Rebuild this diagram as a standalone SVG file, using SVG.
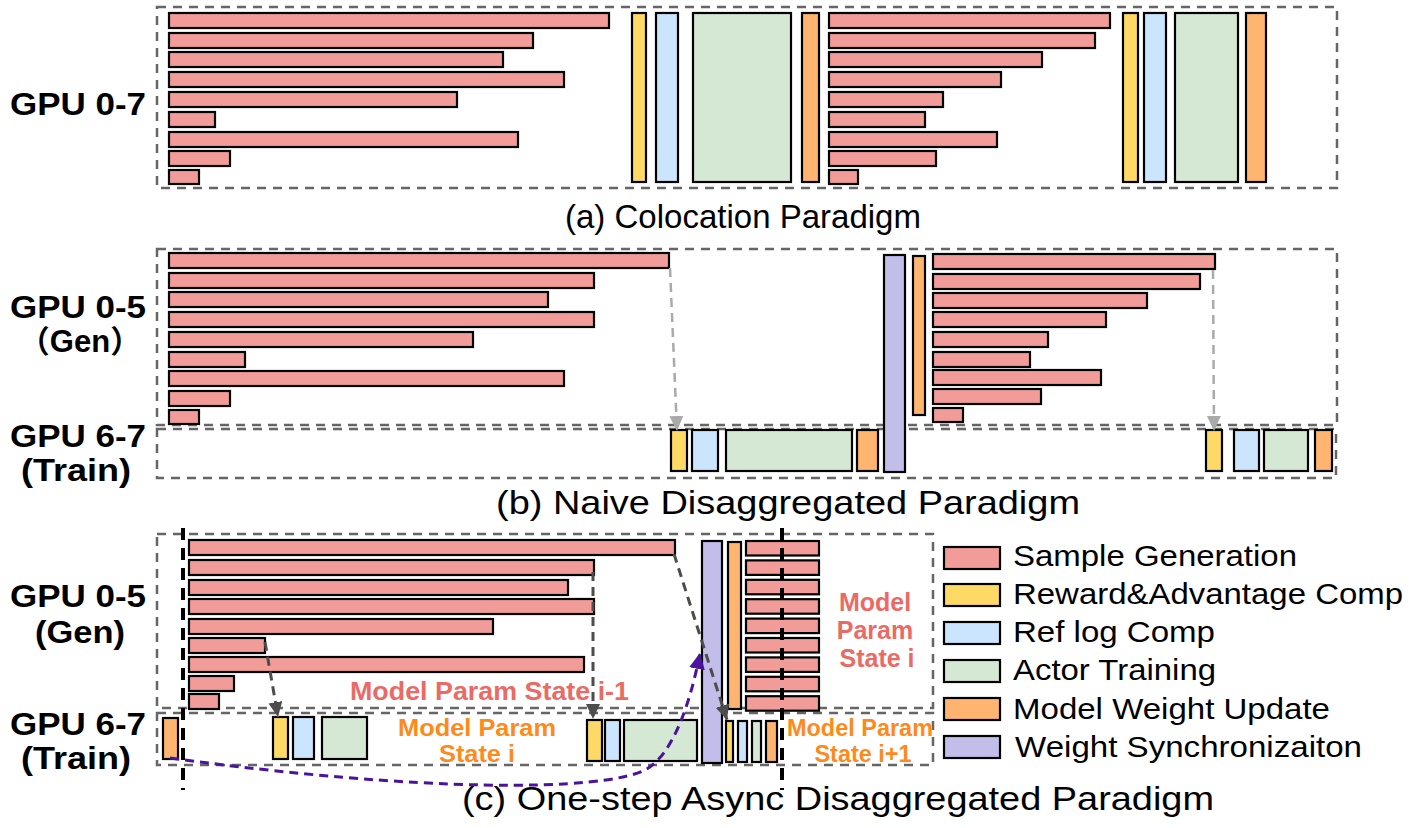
<svg xmlns="http://www.w3.org/2000/svg" width="1413" height="828" viewBox="0 0 1413 828">
<style>
.box{fill:none;stroke:#666;stroke-width:2.5;stroke-dasharray:9 7}
rect.b{stroke:#000;stroke-width:2.2}
.gen{fill:#F19C99}.rew{fill:#FFD966}.ref{fill:#CCE5FF}.act{fill:#D5E8D4}.upd{fill:#FFB570}.syn{fill:#C3BDEA}
text{font-family:"Liberation Sans",Arial,Helvetica,"Noto Sans CJK SC",sans-serif}
.lbl{font-weight:bold;font-size:31px;text-anchor:middle;fill:#000}
.cap{font-size:33px;fill:#000}
.leg{font-size:30px;fill:#000}
.pk{fill:#EA6B66;font-weight:bold;font-size:26px}
.pk2{fill:#EA6B66;font-weight:bold;font-size:25px;text-anchor:middle}
.or{fill:#FF8A1C;font-weight:bold;font-size:23px;text-anchor:middle}
.ag{fill:none;stroke:#AAAAAA;stroke-width:2.5;stroke-dasharray:9 6}
.ad{fill:none;stroke:#4D4D4D;stroke-width:3;stroke-dasharray:9 6}
.ap{fill:none;stroke:#4B129E;stroke-width:3;stroke-dasharray:9 6}
.tk{fill:none;stroke:#000;stroke-width:4;stroke-dasharray:12 8}
</style>
<defs>
<marker id="mg" markerUnits="userSpaceOnUse" markerWidth="16" markerHeight="16" refX="15" refY="7" orient="auto"><path d="M0,0 L15,7 L0,14 Z" fill="#AAAAAA"/></marker>
<marker id="md" markerUnits="userSpaceOnUse" markerWidth="16" markerHeight="16" refX="15" refY="7" orient="auto"><path d="M0,0 L15,7 L0,14 Z" fill="#4D4D4D"/></marker>
<marker id="mp" markerUnits="userSpaceOnUse" markerWidth="18" markerHeight="18" refX="16" refY="8" orient="auto"><path d="M0,0 L16,8 L0,16 Z" fill="#4B129E"/></marker>
</defs>

<!-- ===== Panel (a) ===== -->
<g id="a-frame"><rect class="box" x="157" y="7" width="1180" height="181"/></g>
<g id="a-label"><text class="lbl" x="78" y="115" textLength="136" lengthAdjust="spacingAndGlyphs">GPU 0-7</text></g>
<g id="a-gen1">
<rect class="b gen" x="169" y="13" width="440" height="15"/>
<rect class="b gen" x="169" y="33" width="364" height="15"/>
<rect class="b gen" x="169" y="52" width="334" height="15"/>
<rect class="b gen" x="169" y="72" width="395" height="15"/>
<rect class="b gen" x="169" y="92" width="288" height="15"/>
<rect class="b gen" x="169" y="112" width="46" height="15"/>
<rect class="b gen" x="169" y="132" width="349" height="15"/>
<rect class="b gen" x="169" y="151" width="61" height="15"/>
<rect class="b gen" x="169" y="170" width="30" height="14"/>
</g>
<g id="a-rew1"><rect class="b rew" x="632" y="13" width="14" height="169"/></g>
<g id="a-ref1"><rect class="b ref" x="656" y="13" width="22" height="169"/></g>
<g id="a-act1"><rect class="b act" x="693" y="13" width="98" height="169"/></g>
<g id="a-upd1"><rect class="b upd" x="802" y="13" width="17" height="169"/></g>
<g id="a-gen2">
<rect class="b gen" x="829" y="13" width="281" height="15"/>
<rect class="b gen" x="829" y="33" width="266" height="15"/>
<rect class="b gen" x="829" y="52" width="213" height="15"/>
<rect class="b gen" x="829" y="72" width="172" height="15"/>
<rect class="b gen" x="829" y="92" width="114" height="15"/>
<rect class="b gen" x="829" y="112" width="96" height="15"/>
<rect class="b gen" x="829" y="132" width="168" height="15"/>
<rect class="b gen" x="829" y="151" width="107" height="15"/>
<rect class="b gen" x="829" y="170" width="29" height="14"/>
</g>
<g id="a-rew2"><rect class="b rew" x="1123" y="13" width="15" height="169"/></g>
<g id="a-ref2"><rect class="b ref" x="1144" y="13" width="22" height="169"/></g>
<g id="a-act2"><rect class="b act" x="1175" y="13" width="63" height="169"/></g>
<g id="a-upd2"><rect class="b upd" x="1246" y="13" width="20" height="169"/></g>
<g id="a-caption"><text class="cap" x="565" y="228" textLength="356" lengthAdjust="spacingAndGlyphs">(a) Colocation Paradigm</text></g>

<!-- ===== Panel (b) ===== -->
<g id="b-genframe"><rect class="box" x="157" y="249" width="1180" height="176"/></g>
<g id="b-trainframe"><rect class="box" x="157" y="429" width="1179" height="49"/></g>
<g id="b-label-gen"><text class="lbl" x="78" y="318" textLength="136" lengthAdjust="spacingAndGlyphs">GPU 0-5</text><text class="lbl" x="80" y="352">（Gen）</text></g>
<g id="b-label-train"><text class="lbl" x="78" y="447" textLength="136" lengthAdjust="spacingAndGlyphs">GPU 6-7</text><text class="lbl" x="76" y="481" textLength="110" lengthAdjust="spacingAndGlyphs">(Train)</text></g>
<g id="b-gen1">
<rect class="b gen" x="169" y="253" width="500" height="15"/>
<rect class="b gen" x="169" y="273" width="425" height="15"/>
<rect class="b gen" x="169" y="292" width="379" height="15"/>
<rect class="b gen" x="169" y="312" width="425" height="15"/>
<rect class="b gen" x="169" y="332" width="304" height="15"/>
<rect class="b gen" x="169" y="352" width="76" height="15"/>
<rect class="b gen" x="169" y="371" width="395" height="15"/>
<rect class="b gen" x="169" y="391" width="61" height="15"/>
<rect class="b gen" x="169" y="410" width="30" height="14"/>
</g>
<g id="b-rew1"><rect class="b rew" x="671" y="430" width="16" height="41"/></g>
<g id="b-ref1"><rect class="b ref" x="692" y="430" width="26" height="41"/></g>
<g id="b-act1"><rect class="b act" x="726" y="430" width="126" height="41"/></g>
<g id="b-upd1"><rect class="b upd" x="857" y="430" width="21" height="41"/></g>
<g id="b-syn"><rect class="b syn" x="884" y="255" width="21" height="217"/></g>
<g id="b-upd-gen"><rect class="b upd" x="913" y="256" width="12" height="159"/></g>
<g id="b-gen2">
<rect class="b gen" x="933" y="254" width="282" height="15"/>
<rect class="b gen" x="933" y="274" width="267" height="15"/>
<rect class="b gen" x="933" y="293" width="214" height="15"/>
<rect class="b gen" x="933" y="312" width="173" height="15"/>
<rect class="b gen" x="933" y="332" width="115" height="15"/>
<rect class="b gen" x="933" y="352" width="97" height="15"/>
<rect class="b gen" x="933" y="370" width="168" height="15"/>
<rect class="b gen" x="933" y="389" width="108" height="15"/>
<rect class="b gen" x="933" y="408" width="30" height="14"/>
</g>
<g id="b-rew2"><rect class="b rew" x="1206" y="430" width="16" height="41"/></g>
<g id="b-ref2"><rect class="b ref" x="1234" y="430" width="25" height="41"/></g>
<g id="b-act2"><rect class="b act" x="1264" y="430" width="44" height="41"/></g>
<g id="b-upd2"><rect class="b upd" x="1315" y="430" width="17" height="41"/></g>
<g id="b-caption"><text class="cap" x="496" y="514" textLength="584" lengthAdjust="spacingAndGlyphs">(b) Naive Disaggregated Paradigm</text></g>

<!-- ===== Panel (c) ===== -->
<g id="c-genframe"><rect class="box" x="157" y="534" width="776" height="174"/></g>
<g id="c-trainframe"><rect class="box" x="157" y="713" width="776" height="52"/></g>
<g id="c-label-gen"><text class="lbl" x="78" y="607" textLength="136" lengthAdjust="spacingAndGlyphs">GPU 0-5</text><text class="lbl" x="80" y="643" textLength="90" lengthAdjust="spacingAndGlyphs">(Gen)</text></g>
<g id="c-label-train"><text class="lbl" x="78" y="735" textLength="136" lengthAdjust="spacingAndGlyphs">GPU 6-7</text><text class="lbl" x="76" y="769" textLength="110" lengthAdjust="spacingAndGlyphs">(Train)</text></g>
<g id="c-gen1">
<rect class="b gen" x="189" y="540" width="486" height="15"/>
<rect class="b gen" x="189" y="560" width="405" height="15"/>
<rect class="b gen" x="189" y="580" width="379" height="15"/>
<rect class="b gen" x="189" y="599" width="405" height="15"/>
<rect class="b gen" x="189" y="619" width="304" height="15"/>
<rect class="b gen" x="189" y="638" width="76" height="15"/>
<rect class="b gen" x="189" y="657" width="395" height="15"/>
<rect class="b gen" x="189" y="676" width="45" height="15"/>
<rect class="b gen" x="189" y="694" width="30" height="15"/>
</g>
<g id="c-upd0"><rect class="b upd" x="163" y="718" width="15" height="41"/></g>
<g id="c-rew1"><rect class="b rew" x="273" y="717" width="15" height="42"/></g>
<g id="c-ref1"><rect class="b ref" x="293" y="717" width="21" height="42"/></g>
<g id="c-act1"><rect class="b act" x="322" y="717" width="45" height="42"/></g>
<g id="c-rew2"><rect class="b rew" x="587" y="720" width="15" height="41"/></g>
<g id="c-ref2"><rect class="b ref" x="605" y="720" width="15" height="41"/></g>
<g id="c-act2"><rect class="b act" x="624" y="720" width="73" height="41"/></g>
<g id="c-syn"><rect class="b syn" x="702" y="541" width="20" height="222"/></g>
<g id="c-upd-gen"><rect class="b upd" x="728" y="542" width="13" height="167"/></g>
<g id="c-gen2">
<rect class="b gen" x="746" y="541" width="73" height="14.5"/>
<rect class="b gen" x="746" y="560.4" width="73" height="14.5"/>
<rect class="b gen" x="746" y="579.8" width="73" height="14.5"/>
<rect class="b gen" x="746" y="599.2" width="73" height="14.5"/>
<rect class="b gen" x="746" y="618.6" width="73" height="14.5"/>
<rect class="b gen" x="746" y="638" width="73" height="14.5"/>
<rect class="b gen" x="746" y="657.4" width="73" height="14.5"/>
<rect class="b gen" x="746" y="676.8" width="73" height="14.5"/>
<rect class="b gen" x="746" y="696.2" width="73" height="14.5"/>
</g>
<g id="c-rew3"><rect class="b rew" x="726" y="721" width="7" height="41"/></g>
<g id="c-ref3"><rect class="b ref" x="738" y="721" width="9" height="41"/></g>
<g id="c-act3"><rect class="b act" x="752" y="721" width="9" height="41"/></g>
<g id="c-upd3"><rect class="b upd" x="766" y="721" width="11" height="41"/></g>
<g id="c-text-state-i-1"><text class="pk" x="350" y="700" textLength="279" lengthAdjust="spacingAndGlyphs">Model Param State i-1</text></g>
<g id="c-text-state-i-gen"><text class="pk2" x="875" y="611">Model</text><text class="pk2" x="875" y="639">Param</text><text class="pk2" x="877" y="667">State i</text></g>
<g id="c-text-state-i-train"><text class="or" x="477" y="736" textLength="158" lengthAdjust="spacingAndGlyphs">Model Param</text><text class="or" x="477" y="762" textLength="76" lengthAdjust="spacingAndGlyphs">State i</text></g>
<g id="c-text-state-i1"><text class="or" x="860" y="736" textLength="146" lengthAdjust="spacingAndGlyphs">Model Param</text><text class="or" x="863" y="762" textLength="97" lengthAdjust="spacingAndGlyphs">State i+1</text></g>
<g id="c-caption"><text class="cap" x="462" y="810" textLength="752" lengthAdjust="spacingAndGlyphs">(c) One-step Async Disaggregated Paradigm</text></g>

<!-- ===== Legend ===== -->
<g id="legend-gen"><rect class="b gen" x="944" y="547" width="56" height="22"/><text class="leg" x="1013" y="566" textLength="284" lengthAdjust="spacingAndGlyphs">Sample Generation</text></g>
<g id="legend-rew"><rect class="b rew" x="944" y="584" width="56" height="22"/><text class="leg" x="1013" y="604" textLength="390" lengthAdjust="spacingAndGlyphs">Reward&amp;Advantage Comp</text></g>
<g id="legend-ref"><rect class="b ref" x="944" y="622" width="56" height="22"/><text class="leg" x="1013" y="642" textLength="202" lengthAdjust="spacingAndGlyphs">Ref log Comp</text></g>
<g id="legend-act"><rect class="b act" x="944" y="660" width="56" height="22"/><text class="leg" x="1013" y="680" textLength="203" lengthAdjust="spacingAndGlyphs">Actor Training</text></g>
<g id="legend-upd"><rect class="b upd" x="944" y="698" width="56" height="22"/><text class="leg" x="1013" y="719" textLength="317" lengthAdjust="spacingAndGlyphs">Model Weight Update</text></g>
<g id="legend-syn"><rect class="b syn" x="944" y="736" width="56" height="22"/><text class="leg" x="1015" y="757" textLength="347" lengthAdjust="spacingAndGlyphs">Weight Synchronizaiton</text></g>

<!-- ===== Connectors ===== -->
<g id="connectors">
<path class="ag" d="M670,268 L677,431" marker-end="url(#mg)"/>
<path class="ag" d="M1213,270 L1214,431" marker-end="url(#mg)"/>
<path class="ad" d="M265,642 L278,717" marker-end="url(#md)"/>
<path class="ad" d="M593,572 L593,719" marker-end="url(#md)"/>
<path class="ad" d="M674,554 L727,720" marker-end="url(#md)"/>
<path class="ap" d="M170,758 C420,792 600,792 645,770 C672,756 690,705 700,653" marker-end="url(#mp)"/>
<path class="tk" d="M183,528 V790"/>
<path class="tk" d="M782,528 V790"/>
</g>
</svg>
